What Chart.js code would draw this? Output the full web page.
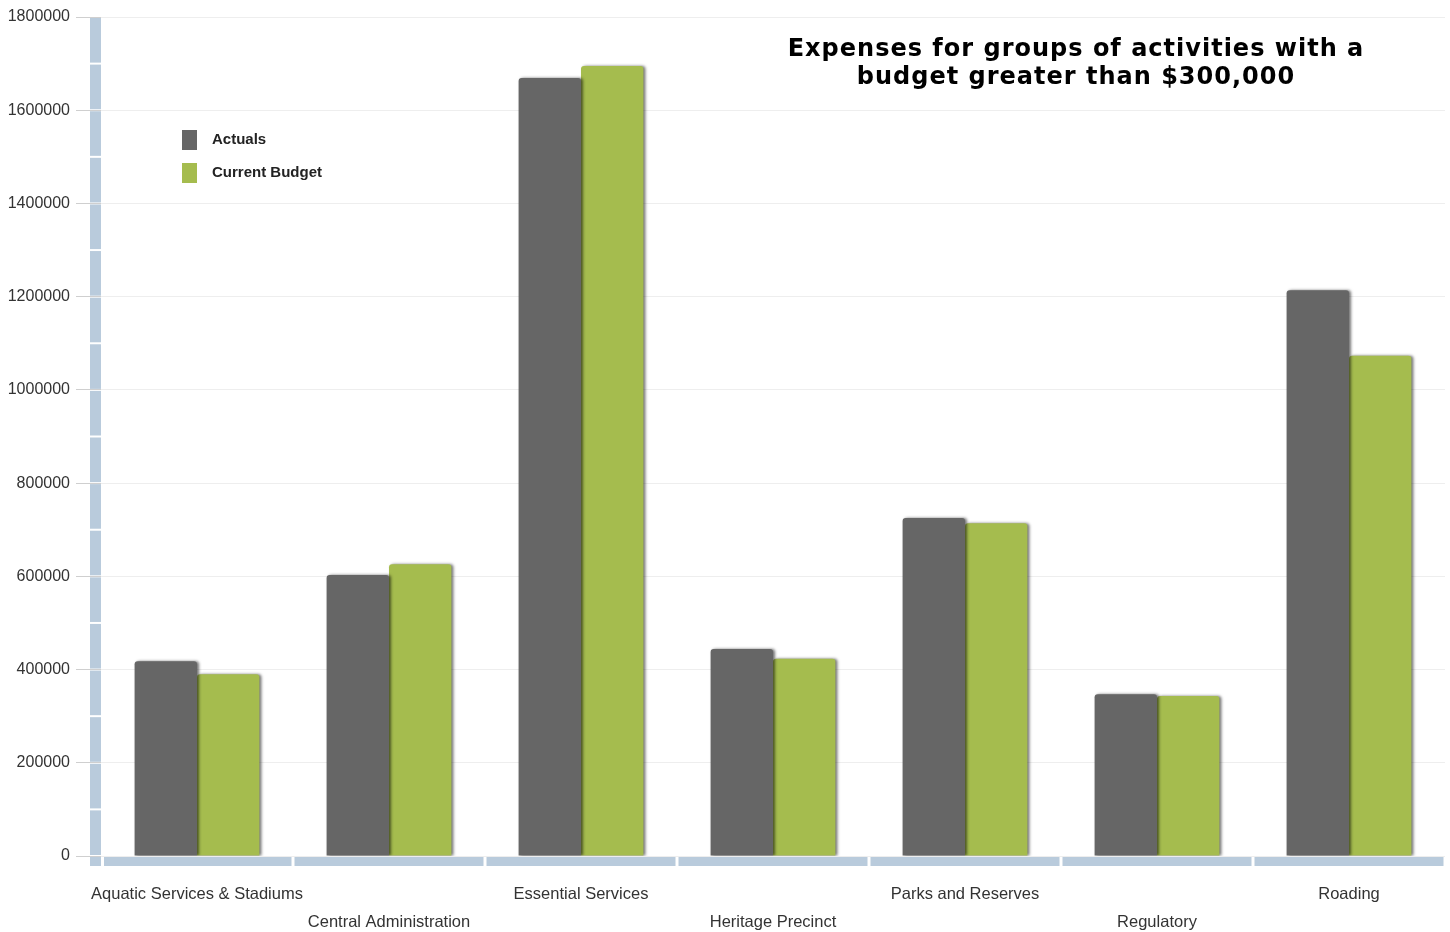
<!DOCTYPE html>
<html>
<head>
<meta charset="utf-8">
<script src="https://cdn.jsdelivr.net/npm/chart.js@4"></script>
<style>
  html, body { margin: 0; padding: 0; background: #fff; }
  #wrap { width: 1450px; height: 932px; position: relative; }
</style>
</head>
<body>
<div id="wrap"><canvas id="myChart"></canvas></div>
<script>
const categories = [
    "Aquatic Services & Stadiums",
    "Central Administration",
    "Essential Services",
    "Heritage Precinct",
    "Parks and Reserves",
    "Regulatory",
    "Roading",
];
const actuals = [418000, 603000, 1669000, 444000, 725000, 347000, 1214000];
const currentBudget = [390000, 626000, 1695000, 423000, 714000, 343000, 1073000];
const yMax = 1800000;
const yStep = 200000;
const titleLines = [
    "Expenses for groups of activities with a",
    "budget greater than $300,000",
];

const bandColor = "#b9cbdc";

// light blue segmented axis bars
const axisBands = {
    id: "axisBands",
    beforeDatasetsDraw(chart) {
        const { ctx, chartArea, scales } = chart;
        const y = scales.y;
        const x = scales.x;
        ctx.save();
        ctx.fillStyle = bandColor;
        const left = chartArea.left - 11;
        for (let v = 0; v < yMax; v += 100000) {
            const top = y.getPixelForValue(v + 100000) + 1;
            const bottom = y.getPixelForValue(v) - 1;
            ctx.fillRect(left, top, 11, bottom - top);
        }
        ctx.fillRect(left, chartArea.bottom + 1, 11, 9);
        const half = (x.getPixelForValue(1) - x.getPixelForValue(0)) / 2;
        categories.forEach((_, i) => {
            const c = x.getPixelForValue(i);
            const a = c - half + (i === 0 ? 3 : 1.5);
            const b = c + half - 1.5;
            ctx.fillRect(a, chartArea.bottom + 1, b - a, 9);
        });
        ctx.restore();
    },
};

// soft shadow on the bars
const barShadow = {
    id: "barShadow",
    beforeDatasetDraw(chart) {
        const ctx = chart.ctx;
        ctx.save();
        ctx.shadowColor = "rgba(0,0,0,0.55)";
        ctx.shadowOffsetX = 2;
        ctx.shadowOffsetY = 0;
        ctx.shadowBlur = 3;
    },
    afterDatasetDraw(chart) {
        chart.ctx.restore();
    },
};

// title and legend sitting inside the plot
const overlay = {
    id: "overlay",
    afterDraw(chart) {
        const ctx = chart.ctx;
        ctx.save();
        ctx.fillStyle = "#000";
        ctx.font = "bold 24px 'DejaVu Sans'";
        ctx.letterSpacing = "1px";
        ctx.textAlign = "center";
        ctx.textBaseline = "middle";
        ctx.fillText(titleLines[0], 1076, 50);
        ctx.fillText(titleLines[1], 1076, 78);
        ctx.letterSpacing = "0px";

        ctx.textAlign = "left";
        ctx.font = "bold 15px 'Liberation Sans'";
        chart.data.datasets.forEach((ds, i) => {
            const top = 130 + i * 33;
            ctx.fillStyle = ds.backgroundColor;
            ctx.fillRect(182, top, 15, 20);
            ctx.fillStyle = "#222";
            ctx.fillText(ds.label, 212, top + 10);
        });
        ctx.restore();
    },
};

new Chart(document.getElementById("myChart"), {
    type: "bar",
    data: {
        labels: categories,
        datasets: [
            {
                label: "Actuals",
                data: actuals,
                backgroundColor: "#666666",
                borderRadius: { topLeft: 3, topRight: 3 },
                borderSkipped: "bottom",
                categoryPercentage: 0.65,
                barPercentage: 1,
            },
            {
                label: "Current Budget",
                data: currentBudget,
                backgroundColor: "#a5bc4e",
                borderRadius: { topLeft: 3, topRight: 3 },
                borderSkipped: "bottom",
                categoryPercentage: 0.65,
                barPercentage: 1,
            },
        ],
    },
    options: {
        responsive: true,
        maintainAspectRatio: false,
        animation: false,
        layout: { padding: { top: 17, right: 5, left: 0, bottom: 0 } },
        scales: {
            x: {
                afterFit: (s) => { s.height = 76; },
                grid: { display: false, drawTicks: false },
                border: { display: false },
                ticks: {
                    autoSkip: false,
                    maxRotation: 0,
                    padding: 24,
                    color: "#333",
                    font: { family: "'Liberation Sans'", size: 16.5, lineHeight: 1.7 },
                    callback: (v, i) => (i % 2 ? ["", categories[i]] : categories[i]),
                },
            },
            y: {
                min: 0,
                max: yMax,
                afterFit: (s) => { s.width = 101; },
                grid: { color: "#eeeeee", tickColor: "#cfcfcf", tickLength: 25 },
                border: { display: false },
                ticks: {
                    stepSize: yStep,
                    padding: 6,
                    color: "#333",
                    font: { family: "'Liberation Sans'", size: 16 },
                    callback: (v) => String(v),
                },
            },
        },
        plugins: {
            legend: { display: false },
            tooltip: { enabled: false },
        },
    },
    plugins: [axisBands, barShadow, overlay],
});
</script>
</body>
</html>
